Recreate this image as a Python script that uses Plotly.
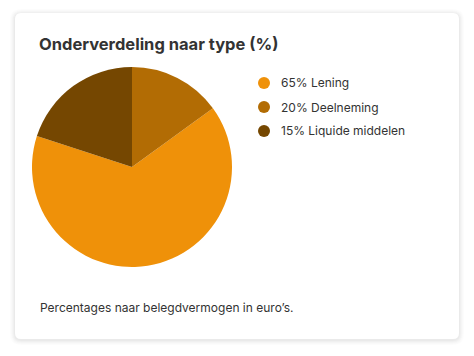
import plotly.graph_objects as go

# Data as drawn in the reference
legend_labels = ["65% Lening", "20% Deelneming", "15% Liquide middelen"]
slice_values = [65, 15, 20]
colors = ["#EF9109", "#B26C04", "#754701"]

title_text = "Onderverdeling naar type (%)"
footer_text = "Percentages naar belegdvermogen in euro’s."

W, H = 474, 356
FONT = "Inter, Lato, 'Open Sans', sans-serif"
TXT = "#333333"

def px(x):
    return x / W

def py(y):
    return 1 - y / H

fig = go.Figure()
fig.add_trace(go.Pie(
    labels=legend_labels,
    values=slice_values,
    marker=dict(colors=colors, line=dict(width=0)),
    sort=False,
    direction="counterclockwise",
    rotation=54,
    textinfo="none",
    hoverinfo="label",
    showlegend=False,
    domain=dict(x=[px(32), px(232)], y=[py(267), py(67)]),
))

shapes = []

def rounded(x0, y0, x1, y1, r):
    rx, ry = r / W, r / H
    X0, X1 = px(x0), px(x1)
    Y0, Y1 = py(y1), py(y0)  # bottom, top in paper
    return (f"M {X0+rx},{Y1} L {X1-rx},{Y1} Q {X1},{Y1} {X1},{Y1-ry} "
            f"L {X1},{Y0+ry} Q {X1},{Y0} {X1-rx},{Y0} L {X0+rx},{Y0} "
            f"Q {X0},{Y0} {X0},{Y0+ry} L {X0},{Y1-ry} Q {X0},{Y1} {X0+rx},{Y1} Z")

# soft card shadow
for i, a in enumerate([0.010, 0.012, 0.015, 0.018, 0.022]):
    g = 5 - i
    shapes.append(dict(type="path", xref="paper", yref="paper",
                       path=rounded(15 - g, 13 - g + 1, 459 + g, 339 + g + 1, 6 + g),
                       fillcolor=f"rgba(0,0,0,{a})", line=dict(width=0), layer="below"))
shapes.append(dict(type="path", xref="paper", yref="paper",
                   path=rounded(15, 13, 459, 339, 6),
                   fillcolor="#ffffff", line=dict(width=0), layer="below"))

annotations = [
    dict(text=f"<b>{title_text}</b>", x=px(37), y=py(44), xref="paper", yref="paper",
         xanchor="left", yanchor="middle", showarrow=False,
         font=dict(family=FONT, size=16.5, color=TXT)),
    dict(text=footer_text, x=px(38), y=py(307), xref="paper", yref="paper",
         xanchor="left", yanchor="middle", showarrow=False,
         font=dict(family=FONT, size=12, color=TXT)),
]

# custom legend with circle markers
for i, (lab, col) in enumerate(zip(legend_labels, colors)):
    cy = 83 + i * 24
    shapes.append(dict(type="circle", xref="paper", yref="paper",
                       x0=px(258), x1=px(270), y0=py(cy + 6), y1=py(cy - 6),
                       fillcolor=col, line=dict(width=0)))
    annotations.append(dict(text=lab, x=px(279), y=py(cy), xref="paper", yref="paper",
                            xanchor="left", yanchor="middle", showarrow=False,
                            font=dict(family=FONT, size=12, color=TXT)))

fig.update_layout(
    width=W, height=H,
    margin=dict(l=0, r=0, t=0, b=0),
    paper_bgcolor="#ffffff",
    plot_bgcolor="#ffffff",
    shapes=shapes,
    annotations=annotations,
)

fig.write_html("out.html", config={"displayModeBar": False},
               post_script="document.body.style.margin='0';")
